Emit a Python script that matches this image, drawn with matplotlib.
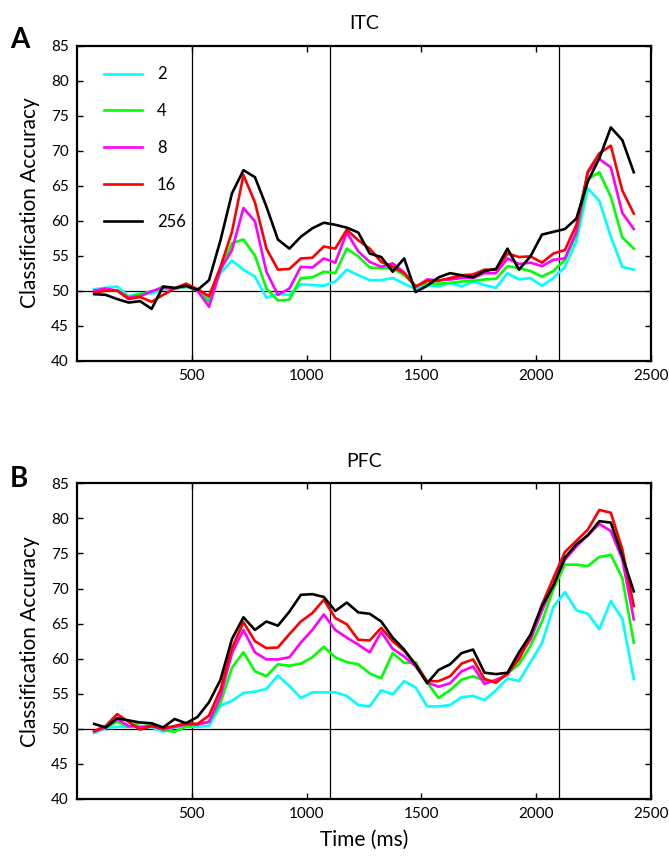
import numpy as np
import matplotlib
matplotlib.use("Agg")
import matplotlib.pyplot as plt

plt.rcParams['font.family'] = ['Lato', 'DejaVu Sans']

time_ms = list(range(75, 2426, 50))
labels = ["2", "4", "8", "16", "256"]
colors = ["#00ffff", "#00ff00", "#ff00ff", "#ff0000", "#000000"]
event_lines = [500, 1100, 2100]

itc_2 = [50.2, 50.4, 50.6, 49.2, 49.6, 49.6, 50.2, 50.3, 50.5, 50.3, 48.8, 52.5, 54.3, 53.0, 52.0, 49.0,
         49.5, 49.4, 50.9, 50.8, 50.7, 51.3, 53.0, 52.2, 51.5, 51.5, 51.8, 51.0, 50.2, 50.8, 50.6, 51.1,
         50.6, 51.3, 50.8, 50.4, 52.5, 51.6, 51.8, 50.7, 51.8, 53.4, 57.0, 64.6, 62.8, 57.7, 53.4, 53.0]
itc_4 = [49.9, 50.0, 50.0, 49.1, 49.5, 49.9, 50.3, 50.3, 50.6, 50.0, 48.4, 53.0, 56.8, 57.3, 55.0, 50.3,
         48.6, 48.7, 51.8, 51.9, 52.7, 52.5, 56.0, 54.9, 53.3, 53.2, 53.2, 52.2, 50.7, 51.0, 51.0, 51.1,
         51.3, 51.4, 51.6, 51.7, 53.5, 53.2, 52.8, 52.0, 52.8, 54.4, 58.0, 65.9, 66.9, 63.4, 57.6, 56.0]
itc_8 = [50.0, 50.3, 50.0, 49.0, 49.2, 49.9, 50.5, 50.3, 50.7, 50.0, 47.7, 53.0, 55.8, 61.8, 59.9, 52.7,
         49.4, 50.3, 53.4, 53.3, 54.6, 54.0, 58.3, 55.6, 54.1, 53.4, 53.9, 52.6, 50.5, 51.6, 51.5, 51.6,
         51.8, 51.8, 52.5, 52.5, 54.6, 53.8, 54.0, 53.5, 54.4, 54.6, 58.4, 66.9, 68.8, 67.6, 61.1, 58.8]
itc_16 = [49.7, 50.0, 50.0, 48.8, 49.1, 48.4, 49.4, 50.3, 51.0, 50.2, 49.2, 53.4, 58.4, 66.5, 62.6, 56.0,
          53.0, 53.1, 54.6, 54.7, 56.3, 56.0, 58.7, 57.2, 56.0, 54.1, 53.4, 52.5, 50.6, 51.4, 51.4, 51.8,
          52.2, 52.3, 53.0, 53.0, 55.3, 54.8, 54.9, 54.0, 55.3, 55.8, 59.4, 67.0, 69.6, 70.7, 64.3, 61.0]
itc_256 = [49.5, 49.4, 48.8, 48.3, 48.5, 47.4, 50.6, 50.4, 50.7, 50.1, 51.5, 57.2, 63.9, 67.2, 66.2, 62.0,
           57.3, 56.0, 57.7, 58.9, 59.7, 59.4, 59.0, 58.3, 55.3, 54.8, 52.7, 54.6, 49.8, 50.7, 51.9, 52.5,
           52.2, 51.9, 52.8, 53.1, 56.0, 53.0, 54.9, 58.0, 58.4, 58.8, 60.3, 65.6, 68.9, 73.3, 71.5, 66.9]

pfc_2 = [49.4, 50.1, 50.3, 50.3, 50.2, 50.2, 49.6, 50.2, 50.3, 50.3, 50.4, 53.3, 54.0, 55.1, 55.3, 55.7,
         57.6, 56.1, 54.4, 55.2, 55.2, 55.2, 54.7, 53.4, 53.2, 55.5, 54.9, 56.8, 55.9, 53.2, 53.2, 53.4,
         54.5, 54.7, 54.1, 55.5, 57.2, 56.8, 59.5, 62.2, 67.4, 69.5, 66.9, 66.4, 64.2, 68.2, 65.7, 57.1]
pfc_4 = [49.6, 50.2, 51.0, 50.3, 50.9, 50.7, 49.8, 49.6, 50.3, 50.7, 51.0, 53.7, 58.7, 60.9, 58.2, 57.5,
         59.2, 59.0, 59.3, 60.2, 61.7, 60.2, 59.5, 59.2, 57.9, 57.2, 60.8, 59.4, 59.5, 56.6, 54.4, 55.5,
         57.0, 57.5, 56.9, 56.6, 57.9, 59.2, 61.8, 65.3, 69.9, 73.4, 73.4, 73.2, 74.5, 74.8, 71.5, 62.3]
pfc_8 = [49.6, 50.2, 51.4, 50.4, 50.3, 50.4, 49.9, 50.3, 50.6, 50.6, 51.0, 54.6, 60.8, 64.1, 60.9, 59.9,
         59.9, 60.2, 62.3, 64.1, 66.3, 64.1, 63.0, 62.0, 60.9, 63.8, 61.4, 60.3, 58.9, 56.6, 56.0, 56.5,
         58.2, 58.9, 56.4, 57.0, 57.7, 60.3, 62.7, 66.8, 70.6, 74.1, 76.0, 77.6, 79.2, 78.2, 74.2, 65.6]
pfc_16 = [49.7, 50.4, 52.1, 51.0, 49.9, 50.4, 50.1, 50.4, 50.8, 50.7, 51.9, 55.6, 61.5, 65.2, 62.5, 61.5,
          61.6, 63.5, 65.3, 66.5, 68.4, 65.8, 64.9, 62.7, 62.6, 64.4, 62.5, 61.1, 59.2, 56.8, 56.8, 57.5,
          59.3, 59.9, 57.1, 56.6, 57.9, 59.9, 63.2, 67.7, 71.5, 75.2, 76.8, 78.4, 81.2, 80.8, 75.6, 67.5]
pfc_256 = [50.7, 50.2, 51.5, 51.2, 50.9, 50.8, 50.2, 51.4, 50.8, 51.7, 53.8, 57.0, 62.8, 65.9, 64.1, 65.3,
           64.7, 66.7, 69.1, 69.2, 68.8, 66.8, 68.0, 66.6, 66.4, 65.3, 63.0, 61.3, 59.1, 56.5, 58.4, 59.2,
           60.8, 61.3, 58.0, 57.8, 58.0, 60.9, 63.4, 67.5, 70.4, 74.4, 76.3, 77.6, 79.6, 79.4, 74.6, 69.6]

itc_series = [itc_2, itc_4, itc_8, itc_16, itc_256]
pfc_series = [pfc_2, pfc_4, pfc_8, pfc_16, pfc_256]

W, H = 669, 857
fig = plt.figure(figsize=(W / 100, H / 100), dpi=100)

def make_ax(top_px, bot_px):
    left_px, right_px = 77, 651
    return fig.add_axes([left_px / W, 1 - bot_px / H, (right_px - left_px) / W, (bot_px - top_px) / H])

ax1 = make_ax(45.5, 360.7)
ax2 = make_ax(483.3, 799)

for ax, series, title in [(ax1, itc_series, "ITC"), (ax2, pfc_series, "PFC")]:
    for xv in event_lines:
        ax.axvline(xv, color="black", lw=0.9, zorder=1)
    ax.axhline(50, color="black", lw=0.9, zorder=1)
    for vals, c, lab in zip(series, colors, labels):
        ax.plot(time_ms, vals, color=c, lw=1.9, label=lab, zorder=2)
    ax.set_xlim(0, 2500)
    ax.set_ylim(40, 85)
    ax.set_xticks([500, 1000, 1500, 2000, 2500])
    ax.set_yticks(range(40, 86, 5))
    ax.tick_params(direction="in", top=True, right=True, length=4, width=1, labelsize=11, pad=6)
    for s in ax.spines.values():
        s.set_linewidth(1.6)
    ax.set_ylabel("Classification Accuracy", fontsize=15, labelpad=8)
    ax.set_title(title, fontsize=14, pad=12)

ax2.set_xlabel("Time (ms)", fontsize=15, labelpad=6)

ax1.legend(loc="upper left", bbox_to_anchor=(0.035, 0.955), frameon=False, fontsize=12,
           handlelength=2.3, labelspacing=1.25, handletextpad=0.9, borderaxespad=0)

fig.text(10 / W, 1 - 40 / H, "A", fontsize=20, fontweight="bold", va="center")
fig.text(10 / W, 1 - 479 / H, "B", fontsize=20, fontweight="bold", va="center")

fig.savefig("out.png", dpi=100)
